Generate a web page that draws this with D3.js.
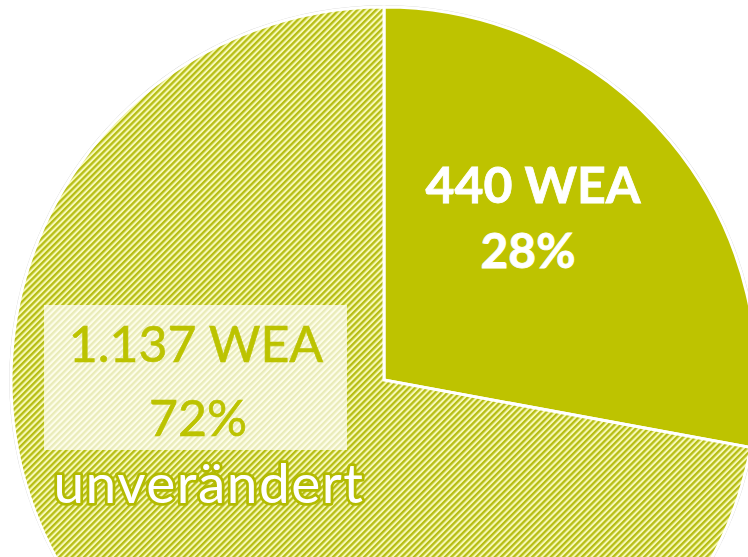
<!DOCTYPE html>
<html><head><meta charset="utf-8">
<script src="https://cdn.jsdelivr.net/npm/d3@7/dist/d3.min.js"></script>
<style>html,body{margin:0;padding:0;background:#fff;overflow:hidden}</style>
</head><body>
<svg id="c" width="748" height="557"></svg>
<script>
const categories = ["", "unverändert"];
const counts = [440, 1137];
const countLabels = ["440 WEA", "1.137 WEA"];
const percentLabels = ["28%", "72%"];

const W = 748, H = 557;
const cx = 384, cy = 380, R = 373;
const solid = "#bec300", hatchDark = "#b6bd14", hatchLight = "#f7f9b6";

const svg = d3.select("#c");
const defs = svg.append("defs");
const pat = defs.append("pattern").attr("id","hatch").attr("patternUnits","userSpaceOnUse")
  .attr("width",4.4).attr("height",4.4).attr("patternTransform","rotate(45)");
pat.append("rect").attr("width",4.4).attr("height",4.4).attr("fill",hatchLight);
pat.append("rect").attr("width",2.3).attr("height",4.4).attr("fill",hatchDark);

const pie = d3.pie().sort(null).value(d => d);
const arcs = pie(counts);
const arc = d3.arc().innerRadius(0).outerRadius(R);

const g = svg.append("g").attr("transform", `translate(${cx},${cy})`);
g.append("circle").attr("r", R + 1).attr("fill","none").attr("stroke","#d4d4d4").attr("stroke-width",1.5);
g.selectAll("path.slice").data(arcs).join("path").attr("class","slice")
  .attr("d", arc)
  .attr("fill", (d,i) => i === 0 ? solid : "url(#hatch)")
  .attr("stroke","#fff").attr("stroke-width",3).attr("stroke-linejoin","miter");

const font = "Lato, 'Open Sans', sans-serif";
svg.append("text").attr("x",533).attr("y",203).attr("text-anchor","middle")
  .attr("font-family",font).attr("font-weight",700).attr("font-size",50)
  .attr("fill","#fff").attr("stroke","#fff").attr("stroke-width",0.8).text(countLabels[0]);
svg.append("text").attr("x",528).attr("y",268).attr("text-anchor","middle")
  .attr("font-family",font).attr("font-weight",700).attr("font-size",48)
  .attr("fill","#fff").attr("stroke","#fff").attr("stroke-width",0.8).text(percentLabels[0]);

svg.append("rect").attr("x",44).attr("y",305).attr("width",303).attr("height",145)
  .attr("fill","#fff").attr("opacity",0.7);
svg.append("text").attr("x",196).attr("y",362).attr("text-anchor","middle")
  .attr("font-family",font).attr("font-weight",400).attr("font-size",50)
  .attr("fill","#bcc300").attr("stroke","#bcc300").attr("stroke-width",0.6).text(countLabels[1]);
svg.append("text").attr("x",198).attr("y",436).attr("text-anchor","middle")
  .attr("font-family",font).attr("font-weight",400).attr("font-size",50)
  .attr("fill","#bcc300").attr("stroke","#bcc300").attr("stroke-width",0.6).text(percentLabels[1]);
svg.append("text").attr("x",209).attr("y",503).attr("text-anchor","middle")
  .attr("font-family",font).attr("font-weight",400).attr("font-size",55)
  .attr("letter-spacing",1.5)
  .attr("fill","#fff").attr("stroke","#b3bb00").attr("stroke-width",5.5)
  .attr("paint-order","stroke").attr("stroke-linejoin","round")
  .text(categories[1]);
</script>
</body></html>
